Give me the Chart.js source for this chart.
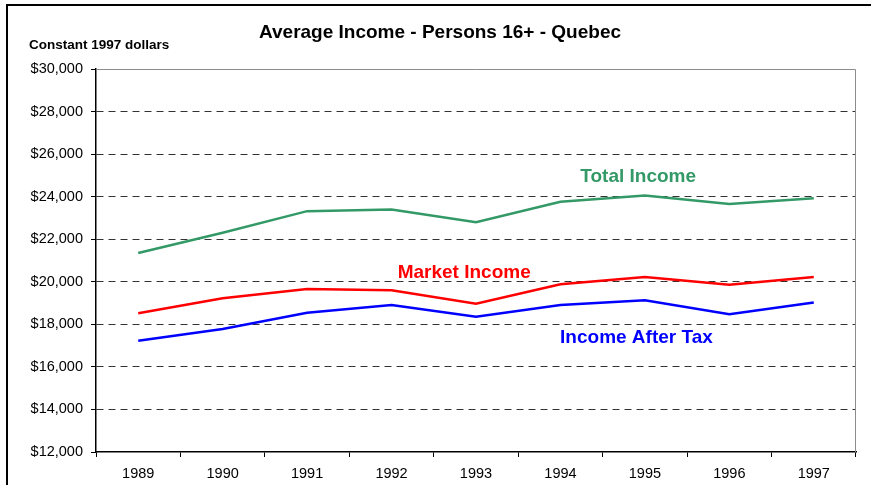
<!DOCTYPE html>
<html>
<head>
<meta charset="utf-8">
<script src="https://cdn.jsdelivr.net/npm/chart.js@4/dist/chart.umd.min.js"></script>
<style>
  html, body { margin: 0; padding: 0; background: #fff; }
  #wrap { width: 871px; height: 485px; position: relative; }
</style>
</head>
<body>
<div id="wrap"><canvas id="c" width="871" height="485"></canvas></div>
<script>
const years = ['1989','1990','1991','1992','1993','1994','1995','1996','1997'];
const totalIncome    = [21350, 22300, 23320, 23400, 22800, 23760, 24060, 23650, 23920];
const marketIncome   = [18520, 19230, 19660, 19600, 18970, 19880, 20220, 19860, 20220];
const incomeAfterTax = [17230, 17780, 18540, 18910, 18360, 18910, 19130, 18470, 19030];
const yTicks = [12000, 14000, 16000, 18000, 20000, 22000, 24000, 26000, 28000, 30000];

const FONT = "'Liberation Sans', Arial, sans-serif";
const TITLE = 'Average Income - Persons 16+ - Quebec';
const Y_TITLE = 'Constant 1997 dollars';

const decor = {
  id: 'decor',
  beforeDraw(chart) {
    const ctx = chart.ctx;
    ctx.save();
    ctx.strokeStyle = '#000';
    ctx.lineWidth = 2;
    ctx.beginPath();
    ctx.moveTo(7, 485);
    ctx.lineTo(7, 5);
    ctx.lineTo(871, 5);
    ctx.stroke();
    ctx.restore();
  },
  afterDatasetsDraw(chart) {
    const ctx = chart.ctx, a = chart.chartArea;
    const xs = chart.scales.x, ys = chart.scales.y;
    ctx.save();
    ctx.strokeStyle = '#8c8c8c';
    ctx.lineWidth = 1;
    ctx.beginPath();
    ctx.moveTo(a.left, Math.round(a.top) + 0.5);
    ctx.lineTo(Math.round(a.right) - 0.5, Math.round(a.top) + 0.5);
    ctx.lineTo(Math.round(a.right) - 0.5, a.bottom);
    ctx.stroke();
    ctx.fillStyle = '#000';
    ctx.textBaseline = 'middle';
    ctx.textAlign = 'center';
    ctx.font = "bold 19px " + FONT;
    ctx.fillText(TITLE, 440, 33);
    ctx.font = "bold 13.5px " + FONT;
    ctx.textAlign = 'left';
    ctx.fillText(Y_TITLE, 29, 45);
    ctx.font = "bold 19px " + FONT;
    ctx.textAlign = 'center';
    chart.options.plugins.decor.labels.forEach(l => {
      ctx.fillStyle = l.color;
      ctx.fillText(l.text, xs.getPixelForValue(l.at[0]), ys.getPixelForValue(l.at[1]));
    });
    ctx.restore();
  }
};

new Chart(document.getElementById('c'), {
  type: 'line',
  data: {
    labels: years,
    datasets: [
      { label: 'Total Income', data: totalIncome, borderColor: '#339966', borderWidth: 2.5, pointRadius: 0, tension: 0, fill: false },
      { label: 'Market Income', data: marketIncome, borderColor: '#ff0000', borderWidth: 2.5, pointRadius: 0, tension: 0, fill: false },
      { label: 'Income After Tax', data: incomeAfterTax, borderColor: '#0000ff', borderWidth: 2.5, pointRadius: 0, tension: 0, fill: false }
    ]
  },
  options: {
    responsive: false,
    animation: false,
    devicePixelRatio: 1,
    layout: { padding: { left: 0, right: 15, top: 69, bottom: 0 } },
    plugins: {
      legend: { display: false },
      tooltip: { enabled: false },
      title: { display: false },
      decor: {
        labels: [
          { text: 'Total Income', color: '#339966', at: [5.92, 24930] },
          { text: 'Market Income', color: '#ff0000', at: [3.86, 20410] },
          { text: 'Income After Tax', color: '#0000ff', at: [5.9, 17360] }
        ]
      }
    },
    scales: {
      x: {
        type: 'category',
        offset: true,
        grid: { offset: true, drawOnChartArea: false, drawTicks: true, tickLength: 5, color: '#000', tickColor: '#000' },
        border: { display: true, color: '#000', width: 1.5 },
        ticks: { color: '#000', font: { family: FONT, size: 14.5 }, padding: 8, maxRotation: 0, autoSkip: false },
        afterFit(s) { s.height = 33; }
      },
      y: {
        min: 12000, max: 30000,
        afterBuildTicks(s) { s.ticks = yTicks.map(v => ({ value: v })); },
        grid: {
          color: c => (c.tick && (c.tick.value === 30000 || c.tick.value === 12000)) ? 'rgba(0,0,0,0)' : '#333',
          tickColor: '#000',
          tickLength: 5,
          lineWidth: 1
        },
        border: { display: true, color: '#000', width: 1.5, dash: [7, 5] },
        ticks: {
          color: '#000',
          font: { family: FONT, size: 14.5 },
          padding: 8,
          callback: v => '$' + Number(v).toLocaleString('en-US')
        },
        afterFit(s) { s.width = 96; }
      }
    }
  },
  plugins: [decor]
});
</script>
</body>
</html>
